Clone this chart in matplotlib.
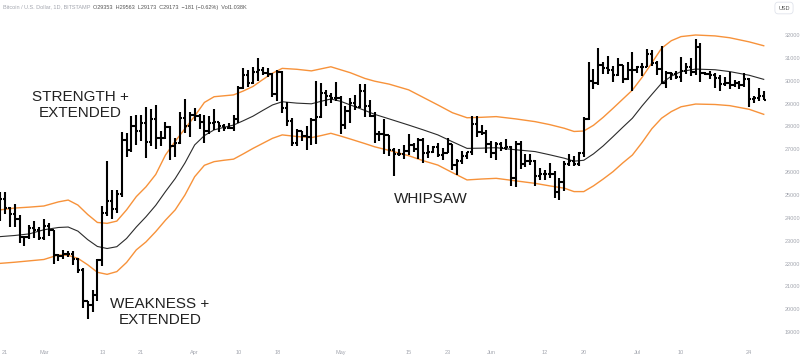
import matplotlib
matplotlib.use('Agg')
import matplotlib.pyplot as plt
import matplotlib.dates as mdates
import pandas as pd

plt.rcParams['font.family'] = ['Liberation Sans', 'DejaVu Sans']

# daily bars, Feb 20 - Jul 27 2023
dates = pd.date_range('2023-02-20', '2023-07-27', freq='D')

opens = [
    24300, 24840, 24440, 24190, 23940, 23180, 23160, 23560, 23490,
    23130, 23640, 23470, 22360, 22350, 22430, 22410, 22200, 21700, 20360, 20190, 20630, 22140, 24200, 24750, 24380,
    25060, 27420, 26960, 28040, 27780, 28170, 27310, 28330, 27490, 27490, 27990, 27140, 27260, 28350, 28030,
    28480, 28460, 28200, 27800, 28170, 28180, 28040, 27920, 27950, 28330, 29670, 30230, 29880, 30390, 30490,
    30320, 30310, 29430, 30380, 28820, 28250, 27270, 27820, 27590, 27520, 28300, 28420, 29470, 29340, 29250,
    29230, 28070, 28680, 29030, 28850, 29530, 28900, 28450, 27690, 27650, 27620, 26990, 26800, 26780, 26920,
    27170, 27030, 27400, 26830, 26890, 27120, 26750, 26850, 27220, 26330, 26480, 26720, 26870, 28090, 27740, 27700,
    27220, 26820, 27250, 27070, 27120, 25740, 27240, 26350, 26500, 26480, 25850, 25940, 25900, 25920, 25130,
    25580, 26340, 26510, 26340, 26840, 28310, 30000, 29890, 30690, 30550, 30470, 30270, 30690, 30080, 30450,
    30470, 30590, 30620, 31160, 30770, 30510, 29900, 30350, 30290, 30170, 30410, 30620, 30390, 31470, 30320,
    30290, 30250, 30140, 29860, 29910, 29800, 29910, 29800, 30090, 29180, 29230, 29353,
]
highs = [
    25120, 25130, 24480, 24600, 24130, 23200, 23680, 23880, 23600,
    23970, 23780, 23480, 22440, 22600, 22570, 22550, 22250, 21800, 20370, 20850, 22200, 24500, 26500, 25240, 25200,
    27770, 27730, 28470, 28500, 28490, 28870, 28770, 28950, 27800, 28180, 28020, 27500, 28650, 29180, 28650,
    28800, 28530, 28490, 28440, 28750, 28190, 28100, 28170, 28480, 29770, 30560, 30480, 30590, 31000, 30620,
    30560, 30320, 30480, 30410, 29080, 28370, 27870, 27820, 28000, 28370, 30000, 29880, 29590, 29450, 29950,
    29330, 28880, 29260, 29370, 29840, 29840, 29160, 28650, 27820, 28330, 27640, 27070, 27030, 27180, 27660,
    27280, 27480, 27480, 27180, 27150, 27270, 27050, 27480, 27230, 26560, 26930, 26900, 28450, 28440, 28050, 27830,
    27350, 27300, 27330, 27450, 27130, 27350, 27370, 26800, 26780, 26530, 26200, 26100, 26400, 26070, 25750,
    26470, 26780, 26690, 26900, 28400, 30800, 30500, 31440, 30800, 31060, 30660, 31000, 30700, 30800, 31260,
    30650, 30790, 31380, 31330, 30880, 31500, 30440, 30380, 30440, 31040, 30780, 30980, 31810, 31640, 30390,
    30440, 30340, 30240, 30180, 30400, 30050, 30000, 30350, 30100, 29330, 29690, 29563,
]
lows = [
    23880, 24150, 23580, 23600, 22900, 22750, 23070, 23100, 23030,
    23030, 23200, 21990, 22120, 22220, 22300, 21940, 21590, 20060, 19570, 19890, 20380, 21880, 24100, 23930, 24200,
    24920, 26660, 26900, 27180, 27360, 26630, 27150, 27020, 27150, 27440, 26550, 26650, 27240, 27700, 27530,
    28250, 27900, 27280, 27670, 27830, 27750, 27780, 27880, 27820, 28170, 29620, 29720, 29870, 29990, 30240,
    30160, 29270, 29100, 28600, 28000, 27140, 27150, 27350, 26970, 27200, 27250, 28380, 28900, 29040, 29100,
    27670, 27880, 28130, 28700, 28800, 28400, 28420, 27270, 27380, 26800, 26720, 25830, 26700, 26580, 26750,
    26870, 26570, 26400, 26640, 26820, 26680, 26540, 26830, 26100, 25870, 26360, 26580, 26770, 27550, 27610, 26840,
    26620, 26520, 26930, 26960, 25400, 25370, 26120, 26230, 26300, 25400, 25650, 25660, 25740, 24850, 24800,
    25180, 26280, 26290, 26270, 26650, 28280, 29620, 29830, 30300, 30290, 29940, 30210, 29900, 30050, 29540,
    30330, 30200, 30580, 30650, 30240, 29850, 29700, 30050, 30080, 29950, 30300, 30200, 30250, 29940, 30250,
    30070, 29670, 29530, 29780, 29620, 29730, 29650, 29740, 28870, 29040, 29100, 29173,
]
closes = [
    24840, 24440, 24190, 23940, 23180, 23160, 23560, 23490, 23130,
    23640, 23470, 22360, 22350, 22430, 22410, 22200, 21700, 20360, 20190, 20630, 22140, 24200, 24750, 24380, 25060,
    27420, 26960, 28040, 27780, 28170, 27310, 28330, 27490, 27490, 27990, 27140, 27260, 28350, 28030, 28480,
    28460, 28200, 27800, 28170, 28180, 28040, 27920, 27950, 28330, 29670, 30230, 29880, 30390, 30490, 30320,
    30310, 29430, 30380, 28820, 28250, 27270, 27820, 27590, 27520, 28300, 28420, 29470, 29340, 29250, 29230,
    28070, 28680, 29030, 28850, 29530, 28900, 28450, 27690, 27650, 27620, 26990, 26800, 26780, 26920, 27170,
    27030, 27400, 26830, 26890, 27120, 26750, 26850, 27220, 26330, 26480, 26720, 26870, 28090, 27740, 27700, 27220,
    26820, 27250, 27070, 27120, 25740, 27240, 26350, 26500, 26480, 25850, 25940, 25900, 25920, 25130, 25580,
    26340, 26510, 26340, 26840, 28310, 30000, 29890, 30690, 30550, 30470, 30270, 30690, 30080, 30450, 30470,
    30590, 30620, 31160, 30770, 30510, 29900, 30350, 30290, 30170, 30410, 30620, 30390, 31470, 30320, 30290,
    30250, 30140, 29860, 29910, 29800, 29910, 29800, 30090, 29180, 29230, 29350, 29173,
]

line_days = [
    0, 3, 6, 9, 12, 14, 16, 18, 20, 22, 24, 26, 28, 30, 32, 34, 36, 38, 40, 42, 44, 46, 48, 50, 52,
    54, 56, 58, 61, 64, 66, 68, 70, 72, 75, 77, 80, 84, 87, 90, 93, 96, 99, 102, 106, 110, 113, 116,
    118, 120, 122, 124, 126, 128, 130, 132, 134, 136, 138, 140, 143, 147, 150, 154, 157,
]
mid_line = [
    23180, 23230, 23300, 23480, 23580, 23600, 23420, 23050, 22750, 22660, 22740, 23100, 23600, 24050,
    24550, 25150, 25720, 26400, 27190, 27600, 27850, 27960, 28060, 28250, 28450, 28700, 28940, 29080,
    29020, 28990, 29100, 29200, 29100, 28940, 28700, 28530, 28330, 28060, 27850, 27630, 27330, 27040,
    27050, 27070, 26980, 26900, 26760, 26610, 26480, 26520, 26800, 27150, 27550, 27960, 28360, 28900,
    29400, 29890, 30200, 30400, 30510, 30480, 30400, 30240, 30060,
]
upper_line = [
    24350, 24430, 24470, 24520, 24700, 24780, 24560, 24150, 23800, 23760, 23860, 24350, 24930, 25360,
    25900, 26750, 27350, 27900, 28450, 29050, 29300, 29340, 29380, 29550, 29750, 30050, 30330, 30540,
    30500, 30430, 30520, 30610, 30480, 30350, 30100, 29980, 29850, 29600, 29270, 28940, 28600, 28380,
    28400, 28430, 28330, 28210, 28080, 27920, 27780, 27800, 28050, 28400, 28790, 29190, 29590, 30150,
    30780, 31420, 31750, 31930, 32000, 31960, 31880, 31700, 31530,
]
lower_line = [
    22010, 22060, 22120, 22180, 22380, 22360, 22230, 21950, 21620, 21530, 21650, 22050, 22600, 22950,
    23400, 23900, 24350, 25000, 25800, 26300, 26460, 26520, 26570, 26800, 27040, 27260, 27480, 27630,
    27560, 27510, 27600, 27700, 27580, 27450, 27250, 27110, 26950, 26720, 26500, 26310, 25980, 25660,
    25700, 25730, 25620, 25510, 25400, 25300, 25150, 25150, 25400, 25700, 26020, 26400, 26750, 27300,
    27900, 28360, 28650, 28860, 28980, 28960, 28910, 28750, 28530,
]

price_ticks = list(range(19000, 32001, 1000))
date_ticks = pd.to_datetime([
    '2023-02-21', '2023-03-01', '2023-03-13', '2023-03-21', '2023-04-01', '2023-04-10', '2023-04-18',
    '2023-05-01', '2023-05-15', '2023-05-23', '2023-06-01', '2023-06-12', '2023-06-20', '2023-07-01',
    '2023-07-10', '2023-07-24',
])
date_labels = ['21', 'Mar', '13', '21', 'Apr', '10', '18', 'May', '15', '23', 'Jun', '12', '20', 'Jul', '10', '24']

fig = plt.figure(figsize=(8, 3.59), dpi=100)
ax = fig.add_axes([0, 19 / 359, 768 / 800, 340 / 359])

x = mdates.date2num(dates)
line_x = mdates.date2num(pd.Timestamp('2023-02-20')) + pd.Series(line_days, dtype=float)
ax.plot(line_x, upper_line, color='#f7923a', lw=1.0)
ax.plot(line_x, lower_line, color='#f7923a', lw=1.0)
ax.plot(line_x, mid_line, color='#2b2b2b', lw=0.8)

bar_col = '#000000'
ax.vlines(x, lows, highs, color=bar_col, lw=1.5)
ax.hlines(opens, x - 0.45, x, color=bar_col, lw=1.5)
ax.hlines(closes, x, x + 0.45, color=bar_col, lw=1.5)

x0 = mdates.date2num(pd.Timestamp('2023-02-20')) - 0.02
ax.set_xlim(x0, x0 + 157.9)
ax.set_ylim(18658, 33531)

ax.yaxis.tick_right()
ax.set_yticks(price_ticks)
ax.set_yticklabels([str(p) for p in price_ticks])
ax.tick_params(axis='y', length=0, pad=12, labelsize=4, labelcolor='#a3a6af')
ax.set_xticks(mdates.date2num(date_ticks))
ax.set_xticklabels(date_labels)
ax.tick_params(axis='x', length=0, pad=7, labelsize=4, labelcolor='#a3a6af')
for s in ax.spines.values():
    s.set_visible(False)

txt = '#222222'
fig.text(80 / 800, 1 - 105 / 359, 'STRENGTH +\nEXTENDED', ha='center', va='center',
         fontsize=11, color=txt, linespacing=1.1)
fig.text(160 / 800, 1 - 312 / 359, 'WEAKNESS +\nEXTENDED', ha='center', va='center',
         fontsize=11, color=txt, linespacing=1.1)
fig.text(431 / 800, 1 - 199 / 359, 'WHIPSAW', ha='center', va='center', fontsize=11, color=txt)

fig.text(3 / 800, 1 - 7 / 359, 'Bitcoin / U.S. Dollar, 1D, BITSTAMP', fontsize=4, color='#a3a6af', va='center')
fig.text(93 / 800, 1 - 7 / 359, 'O29353  H29563  L29173  C29173  \u2212181 (\u22120.62%)  Vol1.038K',
         fontsize=4, color='#555555', va='center')
fig.text(784 / 800, 1 - 8 / 359, 'USD', fontsize=4, color='#555555', ha='center', va='center',
         bbox=dict(boxstyle='round,pad=0.6', fc='white', ec='#e0e3eb', lw=0.6))

fig.savefig('out.png', dpi=100)
